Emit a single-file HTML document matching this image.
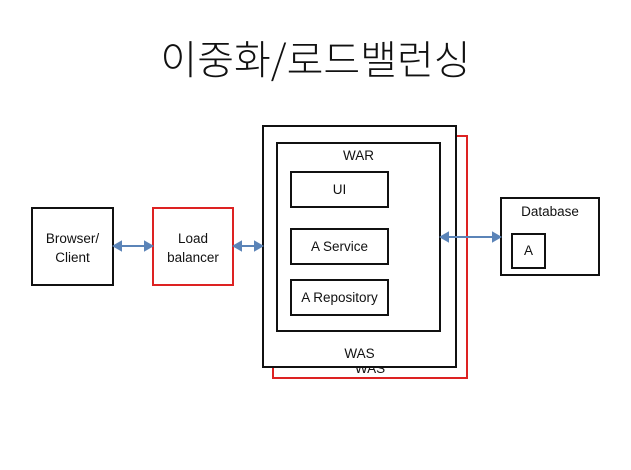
<!DOCTYPE html>
<html><head><meta charset="utf-8"><style>
body{margin:0;width:631px;height:470px;background:#fff;overflow:hidden;position:relative;font-family:"Liberation Sans","Noto Sans CJK KR",sans-serif;color:#111}
.b{position:absolute;box-sizing:border-box;border:2px solid #111;background:#fff}
.t{position:absolute;font-size:13.5px;text-align:center}
</style></head><body>
<div class="t" style="left:0;width:631px;top:28px;font-size:40px;font-weight:300;font-family:'Noto Sans CJK KR',sans-serif">이중화/로드밸런싱</div>
<div class="b" style="left:272px;top:135px;width:196px;height:244px;border-color:#d22"></div>
<div class="t" style="left:340px;width:60px;top:361px">WAS</div>
<div class="b" style="left:262px;top:125px;width:195px;height:243px"></div>
<div class="b" style="left:276px;top:142px;width:165px;height:190px"></div>
<div class="t" style="left:276px;width:165px;top:148px">WAR</div>
<div class="b" style="left:290px;top:171px;width:99px;height:37px;line-height:33px" ><div style="text-align:center;font-size:13.5px">UI</div></div>
<div class="b" style="left:290px;top:228px;width:99px;height:37px;line-height:33px"><div style="text-align:center;font-size:13.5px">A Service</div></div>
<div class="b" style="left:290px;top:279px;width:99px;height:37px;line-height:33px"><div style="text-align:center;font-size:13.5px">A Repository</div></div>
<div class="t" style="left:262px;width:195px;top:346px">WAS</div>
<div class="b" style="left:31px;top:207px;width:83px;height:79px"></div>
<div class="t" style="left:31px;width:83px;top:229px;line-height:19px">Browser/<br>Client</div>
<div class="b" style="left:152px;top:207px;width:82px;height:79px;border-color:#d22"></div>
<div class="t" style="left:152px;width:82px;top:229px;line-height:19px">Load<br>balancer</div>
<div class="b" style="left:500px;top:197px;width:100px;height:79px"></div>
<div class="t" style="left:500px;width:100px;top:204px">Database</div>
<div class="b" style="left:511px;top:233px;width:35px;height:36px;line-height:32px;text-align:center;font-size:13.5px">A</div>
<svg width="631" height="470" style="position:absolute;left:0;top:0">
<g stroke="#5b84b8" stroke-width="2" fill="#5b84b8">
<line x1="118" y1="246" x2="148" y2="246"/><polygon points="114,246 121,242 121,250"/><polygon points="152,246 145,242 145,250"/>
<line x1="238" y1="246" x2="258" y2="246"/><polygon points="234,246 241,242 241,250"/><polygon points="262,246 255,242 255,250"/>
<line x1="445" y1="237" x2="496" y2="237"/><polygon points="441,237 448,233 448,241"/><polygon points="500,237 493,233 493,241"/>
</g></svg>
</body></html>
